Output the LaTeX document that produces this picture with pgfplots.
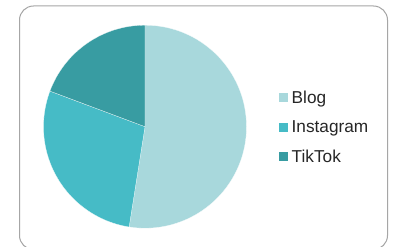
\documentclass[border=0pt]{standalone}
\usepackage{fontspec}
\setmainfont{Liberation Sans}
\usepackage{pgfplots}
\usepackage{pgfplotstable}
\pgfplotsset{compat=1.18}
\definecolor{cBlog}{RGB}{168,216,220}
\definecolor{cInsta}{RGB}{70,187,198}
\definecolor{cTik}{RGB}{56,156,162}
\definecolor{borderc}{RGB}{166,166,166}
\definecolor{txt}{RGB}{38,38,38}
\pgfplotstableread{
name value
Blog 52.5
Instagram 28.2
TikTok 19.3
}\piedata
\begin{document}
\begin{tikzpicture}[x=1bp,y=1bp]
\useasboundingbox (0,0) rectangle (407,247);
\fill[white] (0,0) rectangle (407,247);
\begin{scope}
\clip (0,0) rectangle (407,247);
\draw[color=borderc, line width=1bp, rounded corners=14bp] (19.5,-2.5) rectangle (387.5,241);
\end{scope}
\begin{axis}[at={(145bp,120.3bp)}, anchor=center, hide axis, scale only axis,
  x=101.5bp, y=101.5bp, xmin=-1, xmax=1, ymin=-1, ymax=1]
\addplot[draw=none] coordinates {(0,0)};
\pgfplotsextra{%
  \gdef\startang{90}%
  \foreach \i/\col in {0/cBlog,1/cInsta,2/cTik}{%
    \pgfplotstablegetelem{\i}{value}\of\piedata
    \pgfmathsetmacro\endang{\startang-3.6*\pgfplotsretval}%
    \fill[\col, draw=white, line width=0.2bp] (axis cs:0,0) -- ([shift={(\startang:101.5bp)}]axis cs:0,0) arc[start angle=\startang, end angle=\endang, radius=101.5bp] -- cycle;
    \xdef\startang{\endang}%
  }%
}
\end{axis}
\fill[cBlog] (278.5,144.5) rectangle ++(9.3,9.3);
\fill[cInsta] (278.5,115.1) rectangle ++(9.3,9.3);
\fill[cTik] (278.5,85.5) rectangle ++(9.3,9.3);
\node[anchor=base west, inner sep=0pt, text=txt, font=\fontsize{17.3}{20}\selectfont] at (291.5,143.7) {Blog};
\node[anchor=base west, inner sep=0pt, text=txt, font=\fontsize{17.3}{20}\selectfont] at (291.5,114.3) {Instagram};
\node[anchor=base west, inner sep=0pt, text=txt, font=\fontsize{17.3}{20}\selectfont] at (291.5,84.5) {TikTok};
\end{tikzpicture}
\end{document}
